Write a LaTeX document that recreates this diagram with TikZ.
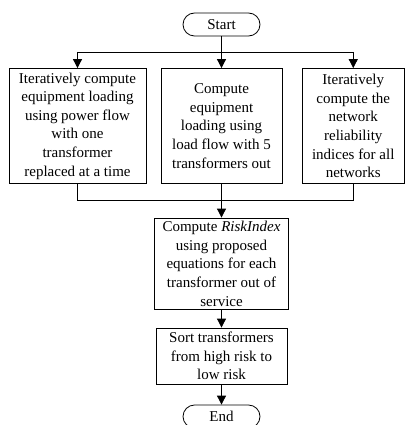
\documentclass[tikz,border=0pt]{standalone}
\usepackage{fontspec}
\setmainfont{Liberation Serif}
\usetikzlibrary{arrows.meta}
\begin{document}
\begin{tikzpicture}[x=1pt,y=-1pt,
  box/.style={draw,line width=0.8pt,inner sep=0pt,align=center,font=\fontsize{15}{18.6}\selectfont},
  term/.style={draw,line width=0.8pt,rounded corners=11.5pt,inner sep=0pt,minimum width=77pt,minimum height=23pt,font=\fontsize{15}{18}\selectfont},
  arr/.style={line width=0.8pt,-{Triangle[width=9pt,length=9pt]}},
  ln/.style={line width=0.8pt}]
\useasboundingbox (0,0) rectangle (405,425);
\node[term] (start) at (221.5,24.5) {Start};
\node[box,minimum width=137pt,minimum height=115pt] (b1) at (77.5,126) {Iteratively compute\\equipment loading\\using power flow\\with one\\transformer\\replaced at a time};
\node[box,minimum width=121pt,minimum height=115pt] (b2) at (221.5,126) {Compute\\equipment\\loading using\\load flow with 5\\transformers out};
\node[box,minimum width=101.5pt,minimum height=115pt] (b3) at (353.25,126) {Iteratively\\compute the\\network\\reliability\\indices for all\\networks};
\node[box,minimum width=134pt,minimum height=91.5pt] (risk) at (221.5,263.75) {Compute \textit{RiskIndex}\\using proposed\\equations for each\\transformer out of\\service};
\node[box,minimum width=131pt,minimum height=56pt] (sort) at (221.5,356) {Sort transformers\\from high risk to\\low risk};
\node[term] (end) at (221.5,416.5) {End};
\coordinate (j1) at (221.5,52);
\coordinate (j2) at (221.5,200);
\draw[ln] (start.south) -- (j1);
\draw[ln] (b1.north |- j1) -- (b3.north |- j1);
\draw[arr] (b1.north |- j1) -- (b1.north);
\draw[arr] (j1) -- (b2.north);
\draw[arr] (b3.north |- j1) -- (b3.north);
\draw[ln] (b1.south) -- (b1.south |- j2) -- (b3.south |- j2) -- (b3.south);
\draw[arr] (b2.south) -- (risk.north);
\draw[arr] (risk) -- (sort);
\draw[arr] (sort) -- (end);
\end{tikzpicture}
\end{document}
